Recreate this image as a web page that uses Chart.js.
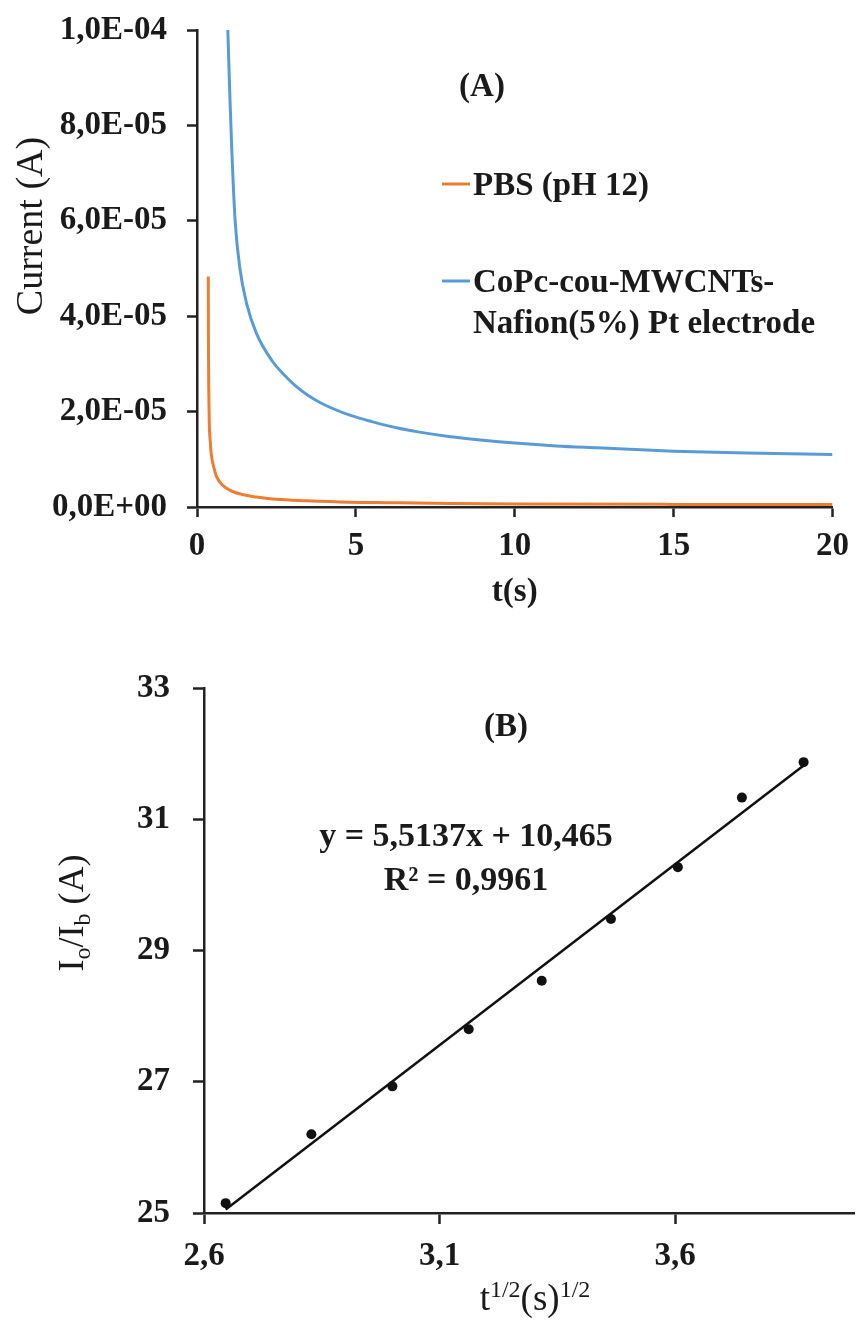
<!DOCTYPE html>
<html lang="en">
<head>
<meta charset="UTF-8">
<title>Chronoamperometry</title>
<script src="https://cdn.jsdelivr.net/npm/chart.js"></script>
<style>
  body { margin: 0; background: #fff; }
  .panel { position: absolute; left: 0; width: 859px; }
  #panelA { top: 0; height: 625px; }
  #panelB { top: 640px; height: 685px; }
</style>
</head>
<body>
<div class="panel" id="panelA"><canvas id="chartA"></canvas></div>
<div class="panel" id="panelB"><canvas id="chartB"></canvas></div>
<script>
// (A) current transients: time in s, current in microamps
const T_PBS  = [0.355, 0.36, 0.37, 0.385, 0.42, 0.45, 0.55, 0.62, 0.8, 1.04, 1.5, 1.87, 2.5, 3.44, 4.79, 6.0, 8.0, 10, 15, 20];
const I_PBS  = [48.3, 35, 25, 18, 13.5, 11, 7.8, 6.3, 4.6, 3.5, 2.5, 2.1, 1.6, 1.3, 1.0, 0.9, 0.75, 0.65, 0.55, 0.5];
const T_COPC = [0.97, 1.04, 1.10, 1.20, 1.35, 1.56, 1.87, 2.39, 2.7, 3.12, 3.5, 3.96, 4.79, 5.5, 6.35, 7.0, 7.92, 9.0, 10.0, 11.3, 12.6, 15.0, 17.3, 20.0];
const I_COPC = [100, 85, 74, 60, 50, 42.7, 36.4, 30.4, 28.0, 25.3, 23.4, 21.6, 19.3, 17.9, 16.5, 15.7, 14.8, 14.0, 13.4, 12.8, 12.4, 11.7, 11.3, 11.0];

// (B) current ratio against t^1/2, with the linear fit
const SQRT_T = [2.646, 2.828, 3.000, 3.162, 3.317, 3.464, 3.606, 3.742, 3.873];
const RATIO  = [25.15, 26.20, 26.93, 27.80, 28.54, 29.48, 30.27, 31.33, 31.87];
const SLOPE = 5.5137, INTERCEPT = 10.465, R_SQUARED = '0,9961';
const X_TICKS_B = [2.6, 3.1, 3.6];

const ORANGE = '#ED7D31', BLUE = '#5B9BD5', TEXT = '#1a1a1a', AXIS = '#222';
const FAMILY = '"Liberation Serif", serif';

Chart.defaults.font.family = FAMILY;
Chart.defaults.color = TEXT;

const comma = s => s.replace('.', ',');

// 2e-5 -> "2,0E-05"
function sci(v) {
  const [m, e] = Number(v).toExponential(1).split('e');
  const sign = e[0] === '-' ? '-' : '+';
  return comma(m) + 'E' + sign + String(Math.abs(+e)).padStart(2, '0');
}

// text with sub/superscript pieces, y is the baseline
function drawRich(ctx, parts, x, y, o) {
  const size = o.size, small = Math.round(size * 0.66);
  const weight = o.weight || 'normal';
  const fontFor = p => `${weight} ${p[1] ? small : size}px ${FAMILY}`;
  ctx.save();
  ctx.translate(x, y);
  if (o.rotate) ctx.rotate(-Math.PI / 2);
  let w = 0;
  parts.forEach(p => { ctx.font = fontFor(p); w += ctx.measureText(p[0]).width; });
  let cx = o.align === 'left' ? 0 : -w / 2;
  ctx.fillStyle = TEXT;
  ctx.textBaseline = 'alphabetic';
  parts.forEach(p => {
    ctx.font = fontFor(p);
    const dy = p[1] === 'sub' ? size * 0.2 : p[1] === 'sup' ? -size * 0.36 : 0;
    ctx.fillText(p[0], cx, dy);
    cx += ctx.measureText(p[0]).width;
  });
  ctx.restore();
}

// free text plus line keys next to the curves
const notes = {
  id: 'notes',
  afterDraw(chart, args, opts) {
    const ctx = chart.ctx;
    (opts.keys || []).forEach(k => {
      const ds = chart.data.datasets[k.dataset];
      ctx.save();
      ctx.strokeStyle = ds.borderColor;
      ctx.lineWidth = ds.borderWidth;
      ctx.beginPath();
      ctx.moveTo(k.x - k.len - 3, k.y - 11);
      ctx.lineTo(k.x - 3, k.y - 11);
      ctx.stroke();
      ctx.restore();
      const lines = [].concat(ds.label);
      lines.forEach((line, i) =>
        drawRich(ctx, [[line]], k.x, k.y + i * k.gap, { size: 33, weight: 'bold', align: 'left' }));
    });
    (opts.texts || []).forEach(t => drawRich(ctx, t.parts, t.x, t.y, t));
  }
};

const tickFont = { size: 33, weight: 'bold' };

function axisStyle(tickLen) {
  return {
    grid: { drawOnChartArea: false, tickLength: tickLen, tickWidth: 2.5, tickColor: AXIS },
    border: { display: true, color: AXIS, width: 2.5 }
  };
}

new Chart(document.getElementById('chartA'), {
  type: 'scatter',
  data: {
    datasets: [
      {
        label: 'PBS (pH 12)',
        data: T_PBS.map((t, i) => ({ x: t, y: I_PBS[i] * 1e-6 })),
        showLine: true, borderColor: ORANGE, borderWidth: 3, pointRadius: 0,
        cubicInterpolationMode: 'monotone'
      },
      {
        label: ['CoPc-cou-MWCNTs-', 'Nafion(5%) Pt electrode'],
        data: T_COPC.map((t, i) => ({ x: t, y: I_COPC[i] * 1e-6 })),
        showLine: true, borderColor: BLUE, borderWidth: 3, pointRadius: 0,
        cubicInterpolationMode: 'monotone'
      }
    ]
  },
  options: {
    animation: false,
    responsive: true,
    maintainAspectRatio: false,
    layout: { padding: { top: 30, right: 22, left: 0, bottom: 0 } },
    plugins: {
      legend: { display: false },
      tooltip: { enabled: false },
      notes: {
        keys: [
          { dataset: 0, x: 473, y: 195, len: 28, gap: 41 },
          { dataset: 1, x: 473, y: 292, len: 28, gap: 41 }
        ],
        texts: [
          { parts: [['(A)']], x: 482, y: 96, size: 33, weight: 'bold' },
          { parts: [['Current (A)']], x: 42, y: 226, size: 38, rotate: true }
        ]
      }
    },
    scales: {
      x: {
        type: 'linear', min: 0, max: 20,
        ticks: { stepSize: 5, padding: 10, font: tickFont },
        title: { display: true, text: 't(s)', font: tickFont, padding: { top: 0, bottom: 13 } },
        ...axisStyle(10),
        afterFit(s) { s.height = 118; }
      },
      y: {
        min: 0, max: 1e-4,
        ticks: { stepSize: 2e-5, padding: 20, font: tickFont, callback: sci },
        ...axisStyle(10),
        afterFit(s) { s.width = 197; s.paddingTop = 0; s.paddingBottom = 0; }
      }
    }
  },
  plugins: [notes]
});

new Chart(document.getElementById('chartB'), {
  type: 'scatter',
  data: {
    datasets: [
      {
        label: 'points',
        data: SQRT_T.map((x, i) => ({ x, y: RATIO[i] })),
        pointRadius: 5, pointBackgroundColor: '#111', pointBorderWidth: 0
      },
      {
        label: 'fit',
        data: [SQRT_T[0], SQRT_T[SQRT_T.length - 1]].map(x => ({ x, y: SLOPE * x + INTERCEPT })),
        showLine: true, borderColor: '#111', borderWidth: 2.5, pointRadius: 0
      }
    ]
  },
  options: {
    animation: false,
    responsive: true,
    maintainAspectRatio: false,
    layout: { padding: { top: 48, right: 0, left: 0, bottom: 0 } },
    plugins: {
      legend: { display: false },
      tooltip: { enabled: false },
      notes: {
        texts: [
          { parts: [['(B)']], x: 506, y: 96, size: 33, weight: 'bold' },
          { parts: [['y = ' + comma(String(SLOPE)) + 'x + ' + comma(String(INTERCEPT))]], x: 466, y: 206, size: 34, weight: 'bold' },
          { parts: [['R² = ' + R_SQUARED]], x: 466, y: 250, size: 34, weight: 'bold' },
          { parts: [['I'], ['o', 'sub'], ['/I'], ['b', 'sub'], [' (A)']], x: 83, y: 273, size: 36, rotate: true },
          { parts: [['t'], ['1/2', 'sup'], ['(s)'], ['1/2', 'sup']], x: 535, y: 670, size: 37 }
        ]
      }
    },
    scales: {
      x: {
        type: 'linear', min: 2.6, max: 3.98,
        afterBuildTicks(s) { s.ticks = X_TICKS_B.map(v => ({ value: v })); },
        ticks: { padding: 13, font: tickFont, callback: v => comma(Number(v).toFixed(1)) },
        ...axisStyle(11),
        afterFit(s) { s.height = 112; }
      },
      y: {
        min: 25, max: 33,
        ticks: { stepSize: 2, padding: 23, font: tickFont },
        ...axisStyle(11),
        afterFit(s) { s.width = 204; }
      }
    }
  },
  plugins: [notes]
});
</script>
</body>
</html>
